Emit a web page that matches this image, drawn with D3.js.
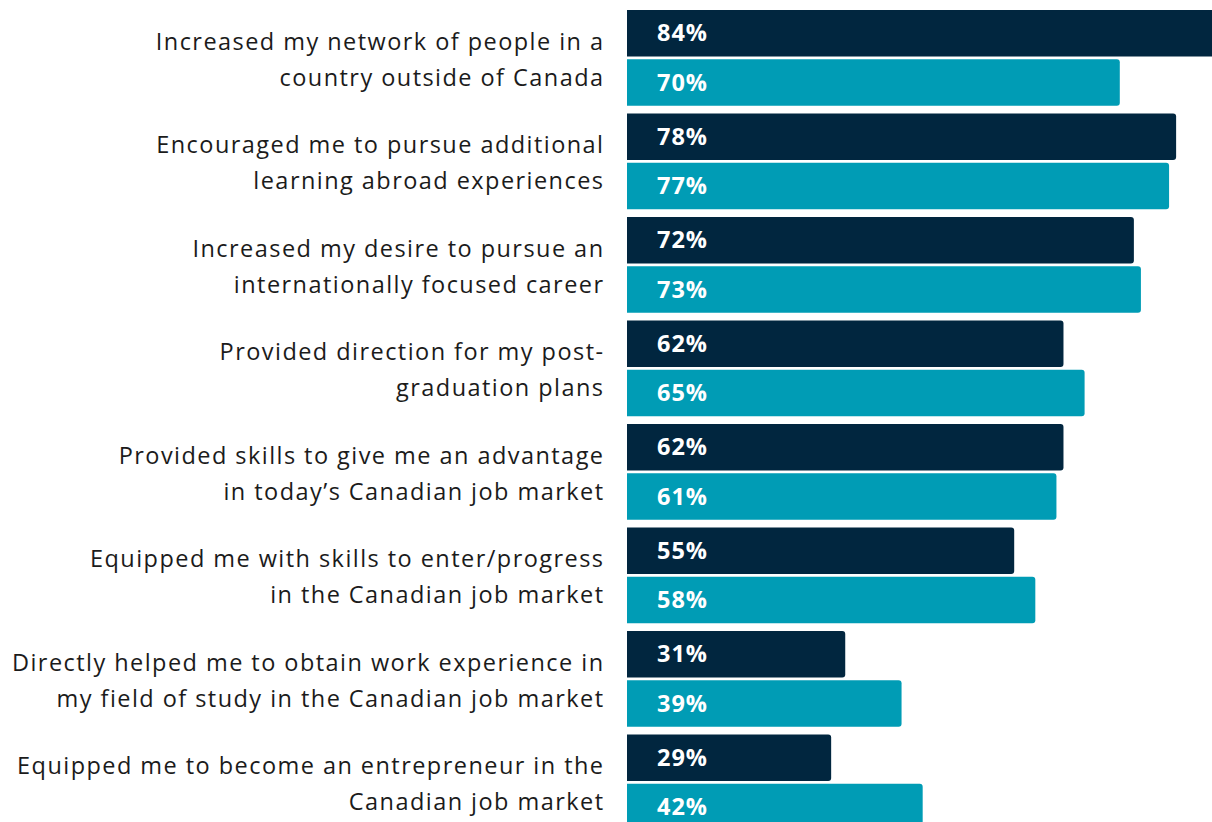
<!DOCTYPE html>
<html>
<head>
<meta charset="utf-8">
<script src="https://cdn.jsdelivr.net/npm/d3@7/dist/d3.min.js"></script>
<style>
  html, body { margin: 0; padding: 0; background: #ffffff; }
  svg { display: block; }
  .cat { font-family: "Open Sans", "Noto Sans", sans-serif; font-size: 23.5px; font-weight: 400; letter-spacing: 1.45px; fill: #1b1b1b; }
  .val { font-family: "Open Sans", "Noto Sans", sans-serif; font-size: 23.5px; font-weight: 700; letter-spacing: 1px; fill: #ffffff; }
</style>
</head>
<body>
<svg id="chart" width="1212" height="822"></svg>
<script>
// Survey statements (line breaks mark how each label wraps)
const categories = [
  "Increased my network of people in a\ncountry outside of Canada",
  "Encouraged me to pursue additional\nlearning abroad experiences",
  "Increased my desire to pursue an\ninternationally focused career",
  "Provided direction for my post-\ngraduation plans",
  "Provided skills to give me an advantage\nin today’s Canadian job market",
  "Equipped me with skills to enter/progress\nin the Canadian job market",
  "Directly helped me to obtain work experience in\nmy field of study in the Canadian job market",
  "Equipped me to become an entrepreneur in the\nCanadian job market"
];
// Share agreeing (%), first series (dark bars)
const seriesDark = [84, 78, 72, 62, 62, 55, 31, 29];
// Share agreeing (%), second series (teal bars)
const seriesTeal = [70, 77, 73, 65, 61, 58, 39, 42];
const seriesKeys = ["dark", "teal"];
const seriesColors = ["#01263f", "#009cb5"];

const svg = d3.select("#chart");
const W = 1212, H = 822;
const x0 = 627;

const x = d3.scaleLinear().domain([0, 100]).range([x0, x0 + 704]);
const y = d3.scaleBand()
  .domain(d3.range(categories.length))
  .range([6.1, 834.1])
  .paddingInner(0.075)
  .paddingOuter(0.0375);
const ySub = d3.scaleBand()
  .domain(seriesKeys)
  .range([0, y.bandwidth()])
  .paddingInner(0.057);
const color = d3.scaleOrdinal().domain(seriesKeys).range(seriesColors);

// Clip so bars have a square left edge and rounded right corners
svg.append("defs").append("clipPath").attr("id", "plotClip")
  .append("rect").attr("x", x0).attr("y", 0).attr("width", W - x0).attr("height", H);

const rows = categories.map((c, i) => ({
  i, label: c,
  bars: [
    { key: "dark", value: seriesDark[i] },
    { key: "teal", value: seriesTeal[i] }
  ]
}));

const plot = svg.append("g").attr("clip-path", "url(#plotClip)");

const groups = plot.selectAll("g.row").data(rows).join("g")
  .attr("class", "row")
  .attr("transform", d => `translate(0,${y(d.i)})`);

groups.selectAll("rect").data(d => d.bars).join("rect")
  .attr("x", x0 - 6)
  .attr("y", b => ySub(b.key))
  .attr("width", b => x(b.value) - x0 + 6)
  .attr("height", ySub.bandwidth())
  .attr("rx", 3)
  .attr("fill", b => color(b.key));

groups.selectAll("text.val").data(d => d.bars).join("text")
  .attr("class", "val")
  .attr("x", x0 + 30)
  .attr("y", b => ySub(b.key) + ySub.bandwidth() / 2 + 8.2)
  .text(b => `${b.value}%`);

// Category labels, right-aligned beside the bars (trailing letter-spacing offset)
const labelRight = 604.5;
const labels = svg.selectAll("text.cat").data(rows).join("text")
  .attr("class", "cat")
  .attr("text-anchor", "end")
  .attr("x", labelRight)
  .attr("y", d => y(d.i) + y.bandwidth() / 2);

labels.each(function(d) {
  const lines = d.label.split("\n");
  const t = d3.select(this);
  lines.forEach((ln, k) => {
    t.append("tspan")
      .attr("x", labelRight)
      .attr("y", y(d.i) + y.bandwidth() / 2 - 8 + k * 36)
      .text(ln);
  });
});
</script>
</body>
</html>
